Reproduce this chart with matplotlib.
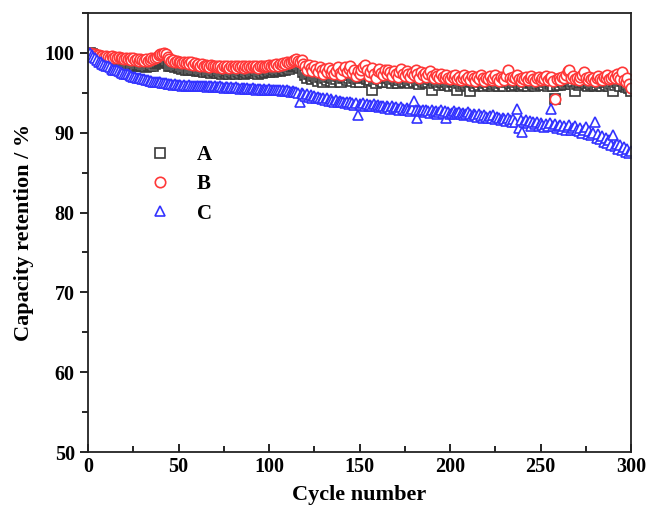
import numpy as np
import matplotlib.pyplot as plt
from matplotlib.ticker import MultipleLocator

# cycle numbers 1..300
cycles = list(range(1, 301))

retention_a = [
    100.0, 99.8, 99.7, 99.6, 99.5, 99.4, 99.4, 99.3, 99.2, 99.2,
    99.1, 99.0, 99.1, 98.9, 99.0, 98.8, 98.9, 98.7, 98.8, 98.6,
    98.7, 98.5, 98.6, 98.4, 98.6, 98.4, 98.5, 98.3, 98.5, 98.3,
    98.4, 98.2, 98.4, 98.3, 98.5, 98.4, 98.6, 98.7, 98.9, 99.0,
    99.1, 99.2, 99.0, 98.7, 98.4, 98.3, 98.4, 98.2, 98.3, 98.1,
    98.2, 98.0, 98.1, 97.9, 98.0, 97.8, 98.0, 97.8, 97.9, 97.7,
    97.9, 97.7, 97.8, 97.6, 97.8, 97.6, 97.7, 97.5, 97.7, 97.6,
    97.5, 97.7, 97.5, 97.4, 97.6, 97.5, 97.7, 97.4, 97.6, 97.5,
    97.6, 97.4, 97.6, 97.5, 97.7, 97.4, 97.6, 97.5, 97.7, 97.5,
    97.6, 97.5, 97.7, 97.4, 97.6, 97.5, 97.7, 97.6, 97.8, 97.6,
    97.7, 97.6, 97.8, 97.7, 97.9, 97.7, 97.9, 98.0, 97.8, 98.1,
    98.0, 98.2, 98.3, 98.4, 98.5, 98.3, 98.1, 98.2, 97.6, 97.2,
    96.9, 97.3, 97.0, 96.7, 97.1, 96.8, 96.5, 97.0, 96.7, 96.4,
    96.9, 96.6, 97.0, 96.5, 96.8, 96.4, 96.7, 97.1, 96.5, 96.3,
    96.8, 97.0, 96.6, 96.9, 97.2, 96.5, 96.8, 96.3, 96.7, 96.4,
    96.8, 97.0, 97.2, 96.7, 96.3, 96.6, 95.4, 96.5, 96.2, 96.7,
    96.9, 96.5, 96.3, 96.8, 96.4, 96.9, 96.6, 96.2, 96.7, 96.5,
    96.2, 96.6, 96.9, 96.4, 96.3, 96.7, 96.5, 96.2, 96.6, 96.4,
    96.8, 96.5, 96.1, 96.6, 96.3, 96.6, 96.2, 96.4, 96.7, 95.4,
    96.2, 96.5, 96.3, 96.0, 96.4, 96.2, 96.0, 96.3, 96.1, 95.9,
    96.3, 96.0, 96.4, 95.3, 96.2, 95.9, 96.1, 96.4, 96.0, 96.2,
    95.2, 96.3, 96.0, 95.8, 96.2, 96.0, 96.4, 96.1, 95.8, 96.2,
    96.0, 96.3, 95.9, 96.1, 96.4, 96.0, 95.8, 96.2, 96.0, 95.9,
    96.3, 96.8, 96.1, 95.9, 96.2, 96.0, 96.4, 96.0, 95.8, 96.1,
    96.0, 96.3, 95.9, 96.2, 96.4, 96.0, 95.8, 96.1, 96.3, 96.0,
    96.2, 96.0, 96.3, 95.9, 96.1, 96.3, 95.9, 94.2, 96.0, 96.2,
    96.0, 96.3, 96.1, 96.4, 96.6, 96.5, 96.1, 96.3, 95.2, 96.1,
    96.0, 96.2, 96.4, 96.5, 96.1, 95.9, 96.2, 96.0, 96.1, 95.8,
    96.0, 96.3, 96.0, 95.9, 96.2, 96.0, 96.3, 95.9, 96.1, 95.2,
    96.0, 96.4, 96.2, 95.9, 96.5, 95.8, 95.7, 96.0, 95.6, 95.2,
]

retention_b = [
    100.0, 99.9, 99.8, 99.8, 99.7, 99.7, 99.6, 99.6, 99.5, 99.6,
    99.5, 99.4, 99.6, 99.4, 99.5, 99.3, 99.5, 99.3, 99.4, 99.2,
    99.4, 99.2, 99.3, 99.1, 99.3, 99.1, 99.2, 99.0, 99.2, 99.1,
    99.0, 99.2, 99.0, 99.1, 99.3, 99.2, 99.4, 99.5, 99.7, 99.8,
    99.9, 100.0, 99.8, 99.5, 99.2, 99.0, 99.1, 98.9, 99.0, 98.8,
    98.9, 98.7, 98.9, 98.7, 98.8, 98.6, 98.8, 98.5, 98.7, 98.5,
    98.6, 98.4, 98.6, 98.3, 98.5, 98.4, 98.2, 98.5, 98.3, 98.4,
    98.2, 98.4, 98.3, 98.1, 98.4, 98.2, 98.3, 98.1, 98.4, 98.2,
    98.3, 98.1, 98.4, 98.2, 98.3, 98.1, 98.4, 98.2, 98.3, 98.2,
    98.4, 98.2, 98.3, 98.1, 98.4, 98.3, 98.2, 98.4, 98.3, 98.5,
    98.3, 98.5, 98.4, 98.6, 98.4, 98.6, 98.5, 98.7, 98.6, 98.8,
    98.7, 98.9, 99.0, 99.1, 99.2, 99.0, 98.8, 99.1, 98.6, 98.3,
    97.9, 98.5, 98.1, 97.7, 98.3, 98.0, 97.6, 98.2, 97.8, 97.4,
    98.0, 97.6, 98.1, 97.5, 97.8, 97.3, 97.7, 98.2, 97.5, 97.2,
    97.8, 98.2, 97.6, 98.0, 98.4, 97.5, 97.9, 97.1, 97.7, 97.3,
    97.9, 98.2, 98.5, 97.8, 97.1, 97.6, 98.1, 97.4, 96.9, 97.7,
    98.0, 97.5, 97.2, 97.8, 97.3, 97.9, 97.6, 97.1, 97.7, 97.4,
    97.0, 97.6, 98.0, 97.3, 97.1, 97.7, 97.4, 97.0, 97.5, 97.2,
    97.8, 97.4, 96.9, 97.6, 97.2, 97.5, 97.0, 97.3, 97.7, 97.1,
    96.9, 97.4, 97.1, 96.8, 97.3, 97.0, 96.8, 97.2, 96.9, 96.7,
    97.1, 96.8, 97.2, 96.7, 97.0, 96.6, 96.9, 97.2, 96.7, 97.0,
    96.6, 97.1, 96.8, 96.5, 97.0, 96.7, 97.2, 96.8, 96.5, 96.9,
    96.7, 97.1, 96.6, 96.9, 97.2, 96.7, 96.5, 97.0, 96.8, 96.6,
    97.1, 97.8, 96.9, 96.6, 97.0, 96.8, 97.2, 96.7, 96.5, 96.9,
    96.7, 97.0, 96.6, 96.9, 97.1, 96.7, 96.5, 96.8, 97.0, 96.6,
    96.9, 96.7, 97.1, 96.6, 96.8, 97.0, 96.5, 94.2, 96.7, 96.9,
    96.6, 97.0, 96.8, 97.2, 97.7, 97.8, 96.9, 97.1, 96.7, 96.8,
    96.6, 97.0, 97.2, 97.6, 96.9, 96.6, 97.0, 96.7, 96.9, 96.5,
    96.8, 97.1, 96.7, 96.6, 97.0, 96.8, 97.2, 96.7, 96.9, 97.1,
    96.8, 97.3, 97.0, 96.7, 97.6, 96.6, 96.4, 96.8, 96.1, 95.6,
]

retention_c = [
    100.0, 99.7, 99.5, 99.3, 99.1, 98.9, 98.8, 98.6, 98.5, 98.4,
    98.3, 98.2, 98.0, 97.9, 97.8, 97.8, 97.7, 97.6, 97.5, 97.4,
    97.3, 97.3, 97.2, 97.1, 97.0, 97.0, 96.9, 96.8, 96.8, 96.7,
    96.7, 96.6, 96.6, 96.5, 96.5, 96.4, 96.4, 96.3, 96.3, 96.3,
    96.2, 96.2, 96.2, 96.1, 96.1, 96.1, 96.0, 96.1, 96.0, 96.0,
    96.0, 95.9, 96.0, 95.9, 95.9, 96.0, 95.9, 95.8, 95.9, 95.8,
    95.9, 95.8, 95.8, 95.9, 95.8, 95.7, 95.8, 95.8, 95.7, 95.8,
    95.7, 95.7, 95.8, 95.7, 95.6, 95.7, 95.7, 95.6, 95.7, 95.6,
    95.6, 95.7, 95.6, 95.5, 95.6, 95.6, 95.5, 95.6, 95.5, 95.5,
    95.6, 95.5, 95.4, 95.5, 95.5, 95.4, 95.5, 95.4, 95.4, 95.5,
    95.4, 95.3, 95.4, 95.3, 95.3, 95.4, 95.2, 95.3, 95.2, 95.3,
    95.2, 95.1, 95.2, 95.1, 95.1, 95.0, 93.9, 95.0, 94.9, 94.6,
    94.8, 94.5, 94.7, 94.4, 94.6, 94.3, 94.5, 94.4, 94.2, 94.4,
    94.1, 94.3, 94.0, 94.2, 94.0, 93.9, 94.1, 93.8, 94.0, 93.8,
    93.9, 93.7, 93.9, 93.6, 93.8, 93.7, 93.5, 93.7, 92.2, 93.6,
    93.5, 93.7, 93.4, 93.6, 93.3, 93.5, 93.4, 93.6, 93.3, 93.5,
    93.2, 93.4, 93.3, 93.1, 93.4, 93.2, 93.0, 93.3, 93.1, 93.2,
    93.0, 92.9, 93.2, 93.0, 92.8, 93.1, 92.9, 92.7, 93.0, 94.0,
    92.8, 91.9, 92.9, 92.7, 92.8, 92.6, 92.9, 92.7, 92.5, 92.8,
    92.6, 92.7, 92.4, 92.6, 92.8, 92.5, 92.7, 91.8, 92.6, 92.4,
    92.5, 92.7, 92.3, 92.5, 92.6, 92.3, 92.5, 92.2, 92.4, 92.6,
    92.3, 92.1, 92.4, 92.2, 92.0, 92.3, 92.1, 91.9, 92.2, 92.0,
    91.8, 92.1, 91.9, 92.2, 91.7, 92.0, 91.8, 91.6, 91.9, 91.7,
    91.5, 91.8, 91.6, 91.3, 91.7, 91.4, 93.0, 90.6, 91.6, 90.1,
    91.3, 91.6, 91.2, 91.5, 90.9, 91.3, 91.1, 91.4, 90.8, 91.2,
    91.0, 90.7, 91.1, 90.8, 91.2, 93.0, 90.9, 91.1, 90.6, 90.9,
    91.0, 90.5, 90.8, 90.4, 90.7, 91.0, 90.3, 90.6, 90.9, 90.4,
    90.2, 90.6, 90.0, 90.4, 90.7, 89.9, 90.2, 89.7, 90.0, 91.4,
    89.4, 89.8, 89.2, 89.6, 88.9, 89.3, 88.7, 89.1, 88.5, 89.7,
    88.3, 88.6, 88.0, 88.4, 87.8, 88.2, 87.6, 88.0, 87.5, 87.7,
]

labels = ["A", "B", "C"]

plt.rcParams["font.family"] = ["Liberation Serif", "DejaVu Serif"]
plt.rcParams["font.weight"] = "bold"

fig = plt.figure(figsize=(6.49, 5.19), dpi=100)
ax = fig.add_axes([0.1356, 0.129, 0.8367, 0.846])

ax.plot(cycles, retention_a, ls="none", marker="s", ms=6.5, mfc="white",
        mec="#3a3a3a", mew=1.2, label=labels[0])
ax.plot(cycles, retention_b, ls="none", marker="o", ms=7.5, mfc="white",
        mec="#ff3838", mew=1.2, label=labels[1])
ax.plot(cycles, retention_c, ls="none", marker="^", ms=7.5, mfc="white",
        mec="#3333ff", mew=1.2, label=labels[2])

ax.set_xlim(0, 300)
ax.set_ylim(50, 105)
ax.xaxis.set_major_locator(MultipleLocator(50))
ax.xaxis.set_minor_locator(MultipleLocator(25))
ax.yaxis.set_major_locator(MultipleLocator(10))
ax.yaxis.set_minor_locator(MultipleLocator(5))

ax.tick_params(axis="x", which="both", direction="in", top=False)
ax.tick_params(axis="y", which="both", direction="out", right=False)
ax.tick_params(which="major", length=6, width=1.2, labelsize=14.5)
ax.tick_params(which="minor", length=4, width=1.2)
for s in ax.spines.values():
    s.set_linewidth(1.3)
    s.set_color("#222222")

ax.set_xlabel("Cycle number", fontsize=16, fontweight="bold", labelpad=6)
ax.set_ylabel("Capacity retention / %", fontsize=16, fontweight="bold", labelpad=8)

leg = ax.legend(loc="upper left", bbox_to_anchor=(0.07, 0.742), frameon=False,
                handletextpad=1.0, labelspacing=0.45, fontsize=15,
                markerscale=1.0, handlelength=1.5)

fig.savefig("out.png", dpi=100)
